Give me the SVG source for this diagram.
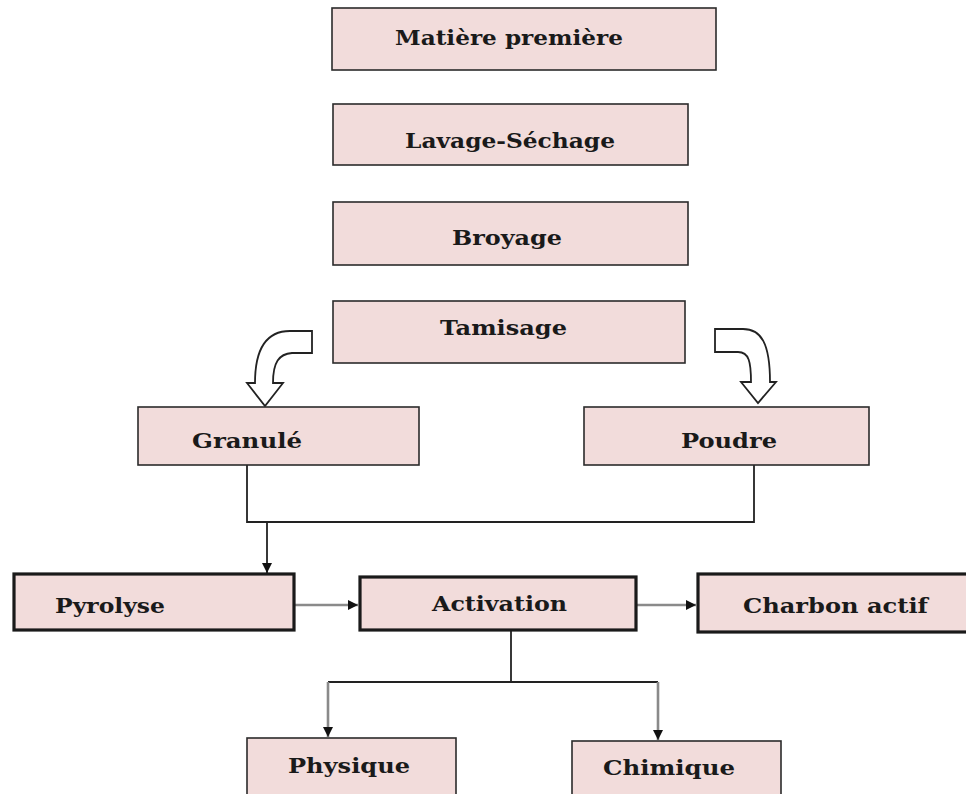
<svg xmlns="http://www.w3.org/2000/svg" width="966" height="794" viewBox="0 0 966 794">
<style>
.box{fill:#f2dcdb;stroke:#2b2b2b;stroke-width:1.6}
.thick{fill:#f2dcdb;stroke:#1a1a1a;stroke-width:3.2}
.lbl{font-family:"DejaVu Serif","Liberation Serif",serif;font-weight:bold;font-size:21px;fill:#1a1a1a}
.ln{fill:none;stroke:#222;stroke-width:1.8}
.gr{fill:none;stroke:#8a8a8a;stroke-width:2.6}
.blk{fill:#fff;stroke:#222;stroke-width:1.8;stroke-linejoin:miter}
</style>
<defs>
<marker id="ah" viewBox="0 0 10 10" refX="10" refY="5" markerWidth="10" markerHeight="10" markerUnits="userSpaceOnUse" orient="auto">
<path d="M0,0 L10,5 L0,10 Z" fill="#111"/>
</marker>
</defs>
<rect width="966" height="794" fill="#fff"/>

<g id="connectors">
<path class="ln" d="M247,465 L247,522 L754,522 L754,465"/>
<path class="ln" d="M267,522 L267,573" marker-end="url(#ah)"/>
<path class="gr" d="M295,605 L358,605" marker-end="url(#ah)"/>
<path class="gr" d="M637,605 L696,605" marker-end="url(#ah)"/>
<path class="ln" d="M511,630 L511,682"/>
<path class="ln" d="M328,682 L658,682"/>
<path class="gr" d="M328,682 L328,737" marker-end="url(#ah)"/>
<path class="gr" d="M658,682 L658,740" marker-end="url(#ah)"/>
<path class="blk" d="M312,331 L312,353 L292,353 C279,354 273,362 273,383 L283,383 L265,406 L247,383 L255,383 C255,350 266,331 290,331 Z"/>
<path class="blk" d="M715,329 L743,329 C761,329 770,343 770,382 L776,382 L758,403 L741,382 L751,382 C751,362 749,352 738,352 L715,352 Z"/>
</g>

<g id="n-matiere"><rect class="box" x="332" y="8" width="384" height="62"/><text class="lbl" x="395" y="45" textLength="228" lengthAdjust="spacingAndGlyphs">Matière première</text></g>
<g id="n-lavage"><rect class="box" x="333" y="104" width="355" height="61"/><text class="lbl" x="405" y="148" textLength="210" lengthAdjust="spacingAndGlyphs">Lavage-Séchage</text></g>
<g id="n-broyage"><rect class="box" x="333" y="202" width="355" height="63"/><text class="lbl" x="452" y="245" textLength="110" lengthAdjust="spacingAndGlyphs">Broyage</text></g>
<g id="n-tamisage"><rect class="box" x="333" y="301" width="352" height="62"/><text class="lbl" x="440" y="335" textLength="127" lengthAdjust="spacingAndGlyphs">Tamisage</text></g>
<g id="n-granule"><rect class="box" x="138" y="407" width="281" height="58"/><text class="lbl" x="192" y="448" textLength="110" lengthAdjust="spacingAndGlyphs">Granulé</text></g>
<g id="n-poudre"><rect class="box" x="584" y="407" width="285" height="58"/><text class="lbl" x="681" y="448" textLength="96" lengthAdjust="spacingAndGlyphs">Poudre</text></g>
<g id="n-pyrolyse"><rect class="thick" x="14" y="574" width="280" height="56"/><text class="lbl" x="55" y="613" textLength="110" lengthAdjust="spacingAndGlyphs">Pyrolyse</text></g>
<g id="n-activation"><rect class="thick" x="360" y="577" width="276" height="53"/><text class="lbl" x="432" y="611" textLength="135" lengthAdjust="spacingAndGlyphs">Activation</text></g>
<g id="n-charbon"><rect class="thick" x="698" y="574" width="270" height="58"/><text class="lbl" x="743" y="613" textLength="185" lengthAdjust="spacingAndGlyphs">Charbon actif</text></g>
<g id="n-physique"><rect class="box" x="247" y="738" width="209" height="60"/><text class="lbl" x="288" y="773" textLength="122" lengthAdjust="spacingAndGlyphs">Physique</text></g>
<g id="n-chimique"><rect class="box" x="572" y="741" width="209" height="60"/><text class="lbl" x="603" y="775" textLength="132" lengthAdjust="spacingAndGlyphs">Chimique</text></g>
</svg>
